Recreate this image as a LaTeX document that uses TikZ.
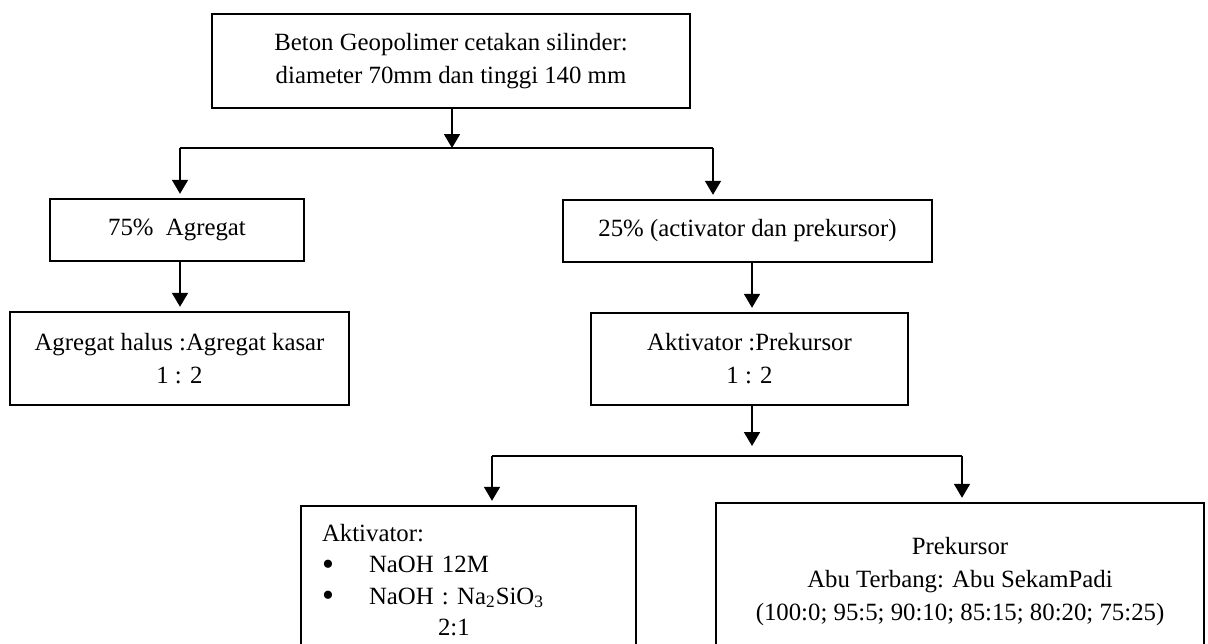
\documentclass[tikz,border=0pt]{standalone}
\usepackage{fontspec}
\setmainfont{Liberation Serif}
\usetikzlibrary{arrows.meta,positioning,calc}
\definecolor{ink}{HTML}{000000}
\newcommand{\blt}{\makebox[23.5pt][l]{\raisebox{-.25ex}[0pt][0pt]{\fontsize{17}{17}\selectfont\textbullet}}}

\begin{document}
\begin{tikzpicture}[x=.5pt,y=-.5pt,
  box/.style={draw=ink,line width=1.2pt,inner sep=0pt,align=center,
    font=\fontsize{12.4}{16.5}\selectfont},
  arr/.style={-{Triangle[length=7pt,width=8pt]},line width=.9pt,shorten >=2pt},
  ln/.style={line width=.9pt}]
\clip (0,0) rectangle (1208,643);
% boxes
\node[box,minimum width=239pt,minimum height=47pt] (top) at (451,61) {Beton Geopolimer cetakan silinder:\\diameter 70mm dan tinggi 140 mm};
\node[box,minimum width=127pt,minimum height=31pt] (agg) at (177,230) {75\%\ \ Agregat};
\node[box,minimum width=169.5pt,minimum height=46.5pt] (halus) at (179.5,358.5) {Agregat halus :Agregat kasar\\1 : 2};
\node[box,minimum width=184.5pt,minimum height=31pt] (act) at (747.5,231) {25\% (activator dan prekursor)};
\node[box,minimum width=158.5pt,minimum height=46pt] (ratio) at (749.5,359) {Aktivator :Prekursor\\1 : 2};
\node[box,align=left,text width=146.5pt,inner xsep=10.5pt,minimum height=74pt,
  font=\fontsize{12.4}{15.6}\selectfont] (aktv) at (468.5,580)
  {Aktivator:\\
   \blt NaOH 12M\\
   \blt NaOH : Na\textsubscript{2}SiO\textsubscript{3}\\
   \hspace*{58pt}2:1};
\node[box,minimum width=244pt,minimum height=79pt] (prek) at (960,582) {Prekursor\\Abu Terbang: Abu SekamPadi\\(100:0; 95:5; 90:10; 85:15; 80:20; 75:25)};
% junctions
\coordinate (j1) at (452,148);
\coordinate (jl) at (180,148);
\coordinate (jr) at (713,148);
\coordinate (j2) at (752,456);
\coordinate (kl) at (492,456);
\coordinate (kr) at (962,456);
% connectors
\draw[arr,shorten >=0pt] (top.south -| j1) -- (j1);
\draw[ln] (jl) -- (jr);
\draw[arr] (jl) -- (jl |- agg.north);
\draw[arr] (jr) -- (jr |- act.north);
\draw[arr] (agg.south -| jl) -- (jl |- halus.north);
\draw[arr] (act.south -| j2) -- (j2 |- ratio.north);
\draw[arr,shorten >=5pt] (ratio.south -| j2) -- (j2);
\draw[ln] (kl) -- (kr);
\draw[arr] (kl) -- (kl |- aktv.north);
\draw[arr] (kr) -- (kr |- prek.north);
\end{tikzpicture}
\end{document}
